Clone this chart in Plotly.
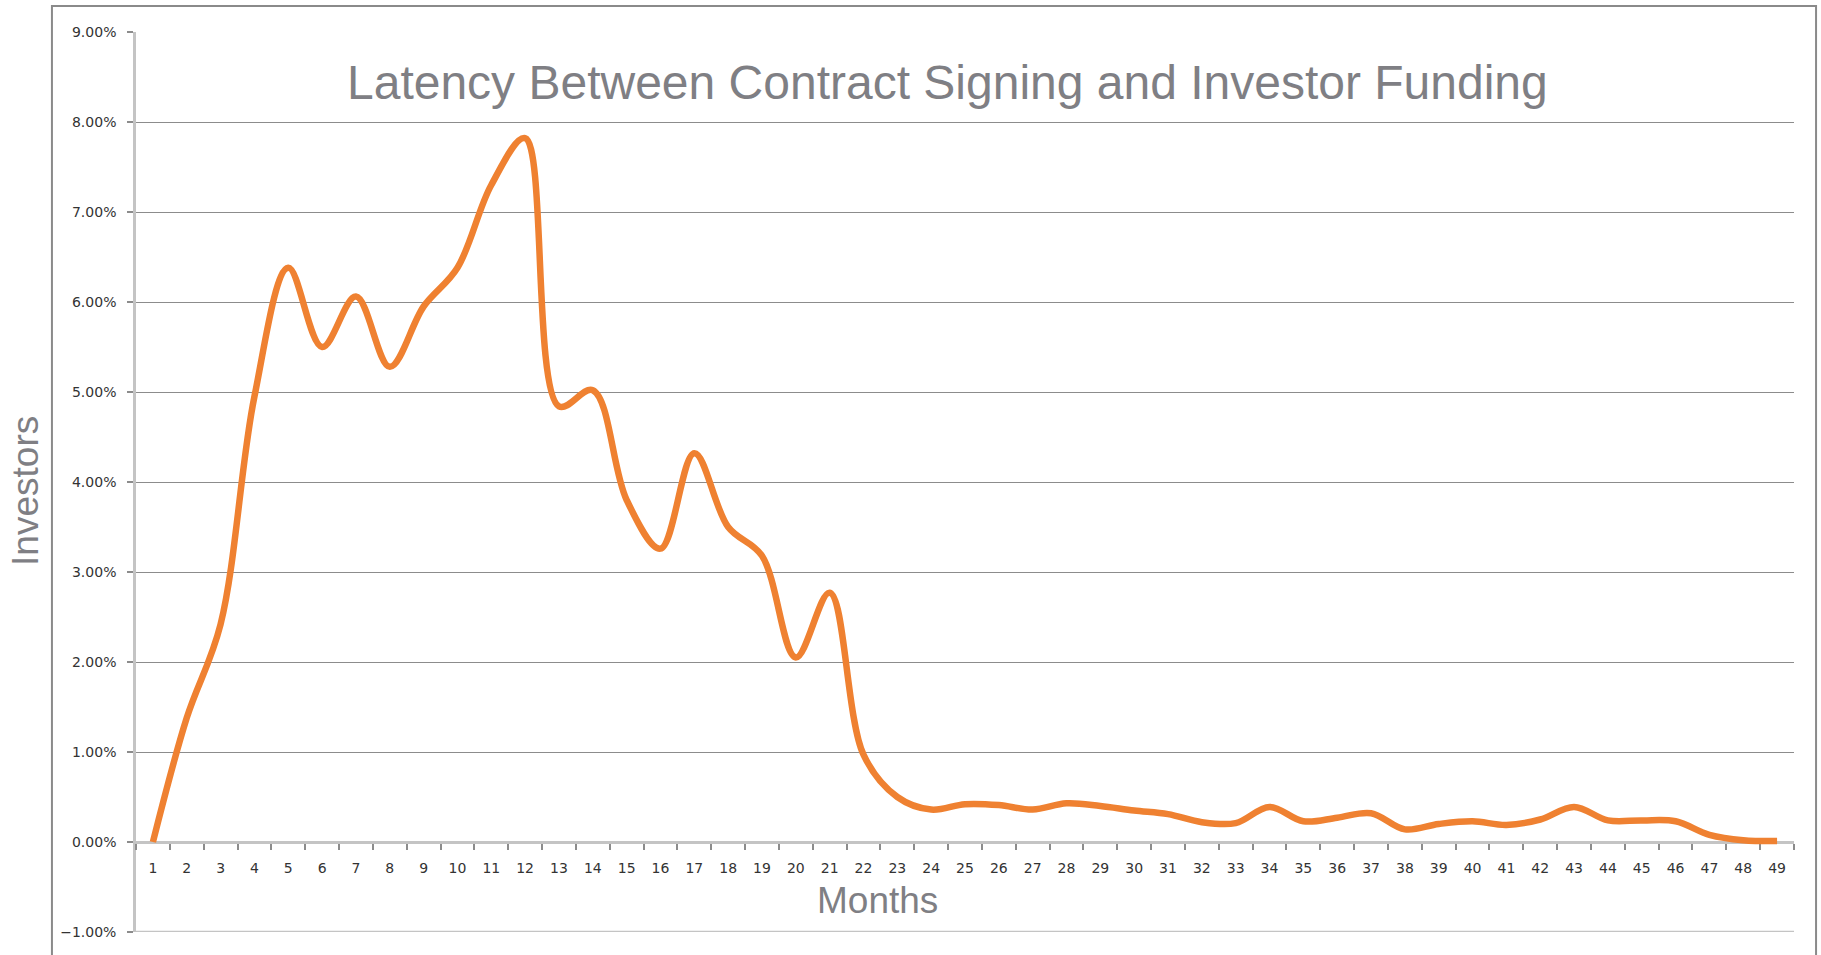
import plotly.graph_objects as go

months = [str(m) for m in range(1, 50)]
investors_pct = [
    0.00, 1.38, 2.42, 4.95, 6.38, 5.50, 6.06, 5.28, 5.95, 6.38,
    7.30, 7.82, 4.84, 5.02, 3.80, 3.26, 4.32, 3.50, 3.18, 2.05,
    2.77, 0.97, 0.50, 0.36, 0.42, 0.41, 0.36, 0.43, 0.40, 0.35,
    0.31, 0.22, 0.21, 0.39, 0.23, 0.27, 0.32, 0.14, 0.20, 0.23,
    0.19, 0.25, 0.39, 0.24, 0.24, 0.23, 0.08, 0.02, 0.01,
]
y_ticks = [-1, 0, 1, 2, 3, 4, 5, 6, 7, 8, 9]

title_text = "Latency Between Contract Signing and Investor Funding"
gray_text = "#7f7f84"
grid_gray = "#8c8c8c"
axis_gray = "#c4c4c4"

fig = go.Figure()
fig.add_trace(go.Scatter(
    x=months,
    y=[v / 100 for v in investors_pct],
    mode="lines",
    line=dict(color="#EF8131", width=6.5, shape="spline", smoothing=1),
    showlegend=False,
))

fig.update_layout(
    width=1821,
    height=955,
    margin=dict(l=136, r=27, t=32, b=23),
    paper_bgcolor="white",
    plot_bgcolor="white",
    font=dict(family="DejaVu Sans", size=13, color="#333333"),
    xaxis=dict(
        type="category",
        range=[-0.5, 48.5],
        anchor="free",
        position=0.1,
        tickson="boundaries",
        ticks="outside",
        ticklen=6,
        tickwidth=1.5,
        tickcolor=grid_gray,
        showgrid=False,
        showline=True,
        linecolor=axis_gray,
        linewidth=2.5,
        ticklabelstandoff=12,
        tickfont=dict(size=14, color="#333333"),
        layer="below traces",
    ),
    yaxis=dict(
        range=[-0.01, 0.09],
        tickvals=[t / 100 for t in y_ticks],
        tickformat=".2%",
        ticks="outside",
        ticklen=6,
        tickwidth=1.5,
        tickcolor=grid_gray,
        showgrid=True,
        gridcolor=grid_gray,
        gridwidth=1.3,
        zeroline=False,
        showline=True,
        linecolor=axis_gray,
        linewidth=2.5,
        ticklabelstandoff=8,
        tickfont=dict(size=14, color="#333333"),
        layer="below traces",
    ),
    shapes=[
        dict(type="line", xref="paper", yref="y", x0=0, x1=1, y0=-0.01, y1=-0.01,
             line=dict(color=axis_gray, width=2.5)),
        dict(type="rect", xref="paper", yref="paper", x0=-0.0507, x1=1.0133,
             y0=-0.08, y1=1.0289, line=dict(color="#8a8a8a", width=2)),
    ],
    annotations=[
        dict(text=title_text, xref="paper", yref="paper", x=0.4897, y=0.944,
             xanchor="center", yanchor="middle", showarrow=False,
             font=dict(family="Liberation Sans", size=48, color=gray_text)),
        dict(text="Investors", xref="paper", yref="paper", x=-0.067, y=0.49,
             xanchor="center", yanchor="middle", textangle=-90, showarrow=False,
             font=dict(family="Liberation Sans", size=37, color=gray_text)),
        dict(text="Months", xref="paper", yref="paper", x=0.447, y=0.0355,
             xanchor="center", yanchor="middle", showarrow=False,
             font=dict(family="Liberation Sans", size=37, color=gray_text)),
    ],
)

# drop the default body margin so the figure fills the window exactly
fig.write_html(
    "out.html",
    config={"displayModeBar": False},
    post_script="document.body.style.margin = '0';",
)
